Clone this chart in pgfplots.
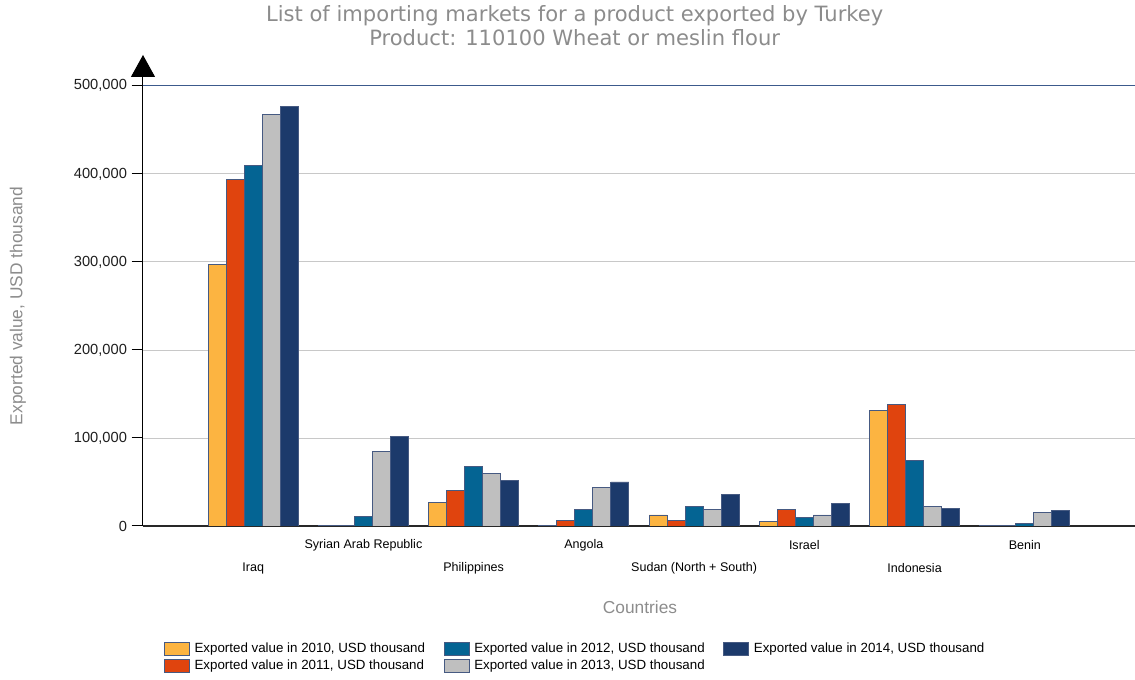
\documentclass[border=0pt]{standalone}
\usepackage{fontspec}
\setmainfont{Liberation Sans}
\newfontfamily\titlefont{DejaVu Sans}
\usepackage{pgfplots}
\pgfplotsset{compat=1.18}
\usetikzlibrary{arrows.meta}
\definecolor{c2010}{RGB}{252,180,65}
\definecolor{c2011}{RGB}{224,68,14}
\definecolor{c2012}{RGB}{4,100,147}
\definecolor{c2013}{RGB}{191,191,191}
\definecolor{c2014}{RGB}{28,58,107}
\definecolor{edge}{RGB}{70,90,130}
\definecolor{titlegray}{RGB}{140,140,140}
\definecolor{topline}{RGB}{60,90,140}
\definecolor{gridgray}{RGB}{200,200,200}
\definecolor{axisdark}{RGB}{40,40,40}
\definecolor{ticktext}{RGB}{30,30,30}
\begin{document}
\begin{tikzpicture}[x=1pt,y=1pt]
\path[use as bounding box] (0,0) rectangle (851.25,510);
\node[font=\titlefont\fontsize{15.8}{18}\selectfont, text=titlegray] at (431,498.5) {List of importing markets for a product exported by Turkey};
\node[font=\titlefont\fontsize{15.8}{18}\selectfont, text=titlegray] at (431,481.5) {Product: 110100 Wheat or meslin flour};
\begin{axis}[
  at={(107.25pt,115.5pt)}, anchor=south west,
  scale only axis, width=744pt, height=353.25pt,
  xmin=0, xmax=9, ymin=0, ymax=535000,
  ybar=0pt, bar width=13.5pt,
  axis x line*=bottom, axis y line*=left,
  x axis line style={-, draw=axisdark, line width=1.1pt},
  y axis line style={-{Triangle[width=18pt,length=16.5pt]}, draw=black, line width=0.75pt},
  scaled y ticks=false,
  ytick={0,100000,200000,300000,400000},
  yticklabels={0,100{,}000,200{,}000,300{,}000,400{,}000},
  extra y ticks={500000},
  extra y tick labels={500{,}000},
  extra y tick style={grid style={draw=topline, line width=0.9pt}},
  ymajorgrids, grid style={draw=gridgray, line width=0.6pt},
  tick align=outside, major tick length=8.5pt,
  y tick style={draw=black, line width=0.75pt},
  yticklabel style={font=\fontsize{11}{13}\selectfont, text=ticktext},
  xtick={1,3,5,7},
  xticklabels={Iraq, Philippines, {Sudan (North + South)}, Indonesia},
  extra x ticks={2,4,6,8},
  extra x tick labels={{Syrian Arab Republic}, Angola, Israel, Benin},
  x tick style={draw=none},
  xticklabel style={font=\fontsize{9.4}{11}\selectfont, anchor=center, yshift=-23.25pt},
  extra x tick style={xticklabel style={yshift=17.25pt}},
  xlabel={Countries},
  xlabel style={font=\fontsize{13}{15}\selectfont, text=titlegray, at={(rel axis cs:0.501,-0.172)}, anchor=center},
  ylabel={Exported value, USD thousand},
  ylabel style={font=\fontsize{13}{15}\selectfont, text=titlegray, at={(rel axis cs:-0.126,0.467)}, anchor=center},
  legend columns=2, transpose legend,
  legend style={draw=none, fill=none, at={(rel axis cs:0.017,-0.236)}, anchor=north west,
    font=\fontsize{10}{12}\selectfont, row sep=0pt,
    /tikz/every odd column/.append style={column sep=1.5pt},
    /tikz/every even column/.append style={column sep=12pt}},
  legend cell align=left,
  legend image code/.code={\draw[#1, line width=0.6pt] (0pt,-4.9pt) rectangle (18.75pt,4.9pt);},
  every axis plot/.append style={draw=edge, line width=0.6pt},
]
\addplot[fill=c2010] coordinates {(1,297000) (2,500) (3,26500) (4,1000) (5,12500) (6,5300) (7,131000) (8,500)};
\addplot[fill=c2011] coordinates {(1,394000) (2,500) (3,40000) (4,6800) (5,6500) (6,19000) (7,138000) (8,500)};
\addplot[fill=c2012] coordinates {(1,410000) (2,10500) (3,68000) (4,19000) (5,22000) (6,9500) (7,74600) (8,3000)};
\addplot[fill=c2013] coordinates {(1,467000) (2,85000) (3,60000) (4,44000) (5,19000) (6,12500) (7,22000) (8,15000)};
\addplot[fill=c2014] coordinates {(1,477000) (2,101500) (3,51500) (4,50000) (5,36000) (6,25500) (7,19800) (8,18000)};
\legend{{Exported value in 2010, USD thousand}, {Exported value in 2011, USD thousand}, {Exported value in 2012, USD thousand}, {Exported value in 2013, USD thousand}, {Exported value in 2014, USD thousand}}
\end{axis}
\end{tikzpicture}
\end{document}
